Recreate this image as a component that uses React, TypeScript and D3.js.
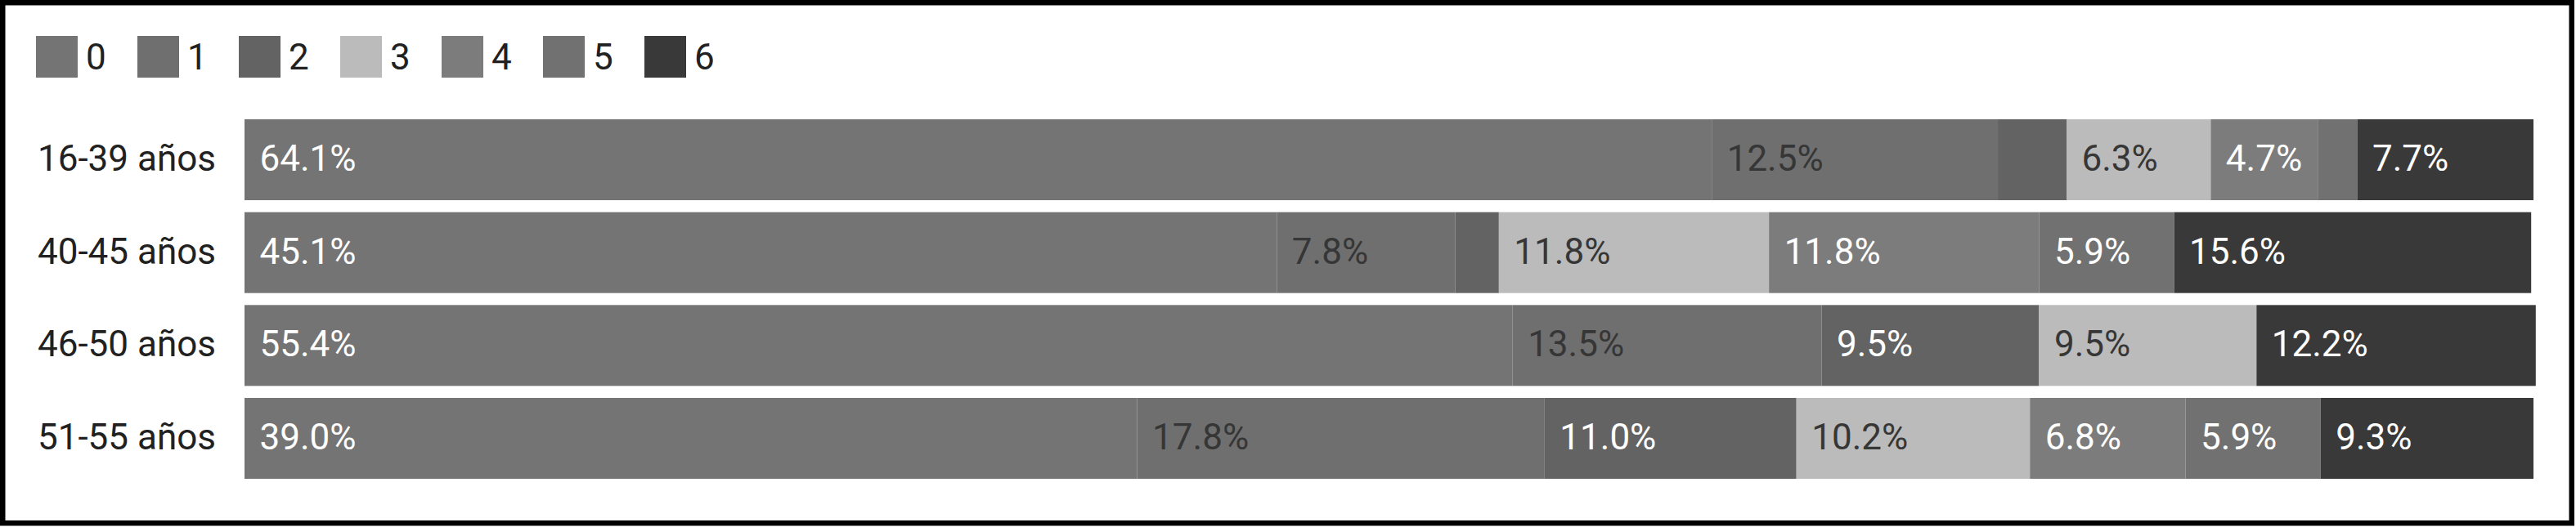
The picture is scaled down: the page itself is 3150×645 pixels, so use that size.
import React from "react";
import * as d3 from "d3";

const categories = ["16-39 años", "40-45 años", "46-50 años", "51-55 años"];
const seriesKeys = ["0", "1", "2", "3", "4", "5", "6"];
const series0 = [64.1, 45.1, 55.4, 39.0];
const series1 = [12.5, 7.8, 13.5, 17.8];
const series2 = [3.0, 1.9, 9.5, 11.0];
const series3 = [6.3, 11.8, 9.5, 10.2];
const series4 = [4.7, 11.8, 0, 6.8];
const series5 = [1.7, 5.9, 0, 5.9];
const series6 = [7.7, 15.6, 12.2, 9.3];
const seriesColors = ["#747474", "#6f6f6f", "#636363", "#bbbbbb", "#7c7c7c", "#717171", "#393939"];
const labelColors = ["#ffffff", "#363636", "#ffffff", "#363636", "#ffffff", "#ffffff", "#ffffff"];

const W = 3150;
const H = 645;
const FONT = "Roboto, 'Noto Sans', sans-serif";
const FS = 44;

export default function App() {
  const allSeries = [series0, series1, series2, series3, series4, series5, series6];
  const rows = categories.map((c, i) => {
    const o: any = { cat: c };
    seriesKeys.forEach((k, j) => (o[k] = allSeries[j][i]));
    return o;
  });
  const stacked = d3.stack<any>().keys(seriesKeys)(rows);

  const x = d3.scaleLinear().domain([0, 100]).range([299, 3098]);
  const y = d3
    .scaleBand<string>()
    .domain(categories)
    .range([146, 586])
    .paddingInner(0.129)
    .paddingOuter(0);
  const legendX = d3.scaleLinear().domain([0, 1]).range([44, 168]);
  const sw = 51;

  return (
    <svg
      width={W}
      height={H}
      style={{ position: "absolute", left: 0, top: 0, background: "#fff" }}
      fontFamily={FONT}
    >
      <rect x={0} y={0} width={W} height={H} fill="#fff" />
      {/* legend */}
      {seriesKeys.map((k, i) => (
        <g key={k}>
          <rect x={legendX(i)} y={44} width={sw} height={sw} fill={seriesColors[i]} />
          <text x={legendX(i) + sw + 10} y={85} fontSize={FS} fill="#212121">
            {k}
          </text>
        </g>
      ))}
      {/* category labels */}
      {categories.map((c) => (
        <text
          key={c}
          x={264}
          y={(y(c) as number) + y.bandwidth() / 2}
          dy="0.31em"
          textAnchor="end"
          fontSize={FS}
          fill="#212121"
        >
          {c}
        </text>
      ))}
      {/* bars */}
      {stacked.map((s, si) => (
        <g key={s.key}>
          {s.map((d: any, i: number) => {
            const x0 = x(d[0]);
            const x1 = x(d[1]);
            if (x1 - x0 <= 0) return null;
            return (
              <rect
                key={i}
                x={x0}
                y={y(d.data.cat) as number}
                width={x1 - x0}
                height={y.bandwidth()}
                fill={seriesColors[si]}
              />
            );
          })}
        </g>
      ))}
      {/* value labels */}
      {stacked.map((s, si) => (
        <g key={"l" + s.key}>
          {s.map((d: any, i: number) => {
            const v = d[1] - d[0];
            if (v < 4) return null;
            return (
              <text
                key={i}
                x={x(d[0]) + 18.5}
                y={(y(d.data.cat) as number) + y.bandwidth() / 2}
                dy="0.31em"
                fontSize={FS}
                fill={labelColors[si]}
              >
                {allSeries[si][i].toFixed(1) + "%"}
              </text>
            );
          })}
        </g>
      ))}
      {/* frame */}
      <rect x={3.25} y={3.25} width={3141.5} height={637} fill="none" stroke="#000" strokeWidth={6.5} />
    </svg>
  );
}
